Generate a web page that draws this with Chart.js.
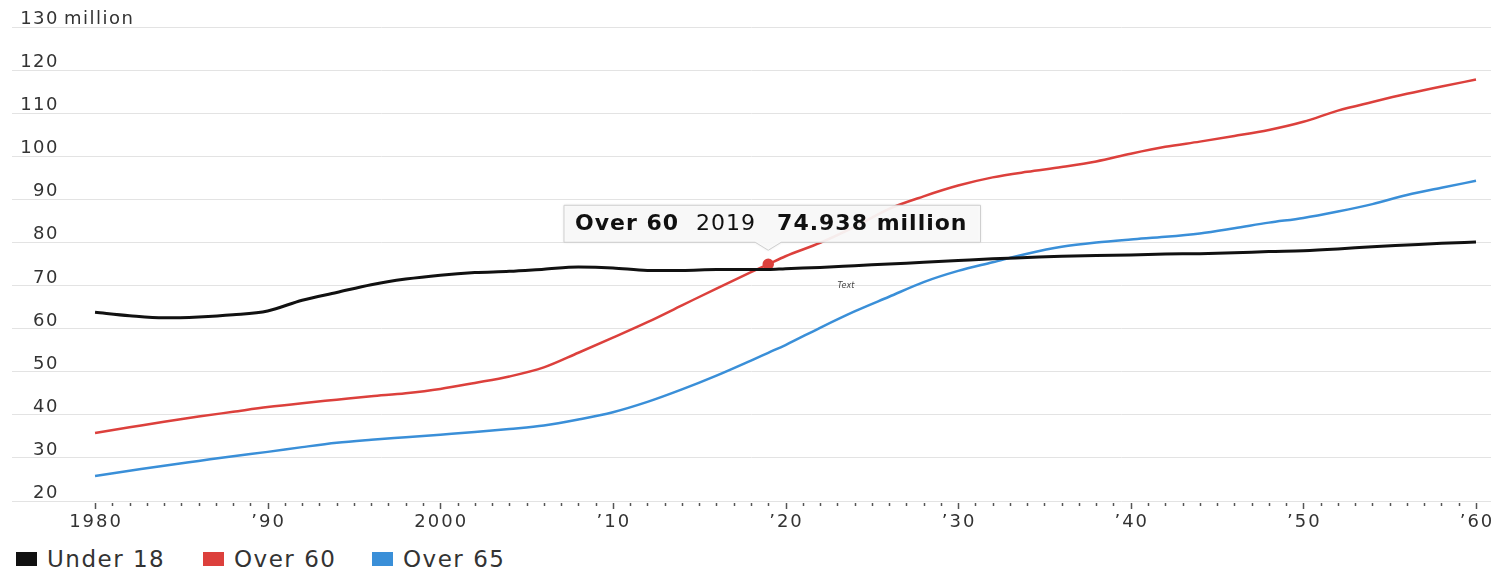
<!DOCTYPE html>
<html>
<head>
<meta charset="utf-8">
<title>US population by age group</title>
<script src="https://cdn.jsdelivr.net/npm/chart.js@4.4.1/dist/chart.umd.min.js"></script>
<style>
  html, body { margin: 0; padding: 0; background: #fff; }
  #wrap { position: relative; width: 1491px; height: 571px; overflow: hidden; }
  #chartBox { position: absolute; left: 0; top: 0; width: 1491px; height: 540px; }
  #legend { position: absolute; left: 0; top: 545px; width: 1491px; height: 28px;
            font-family: "DejaVu Sans", sans-serif; font-size: 23px; color: #333; letter-spacing: 1.5px; }
  .item { position: absolute; top: 0; height: 28px; line-height: 28px; display: flex; align-items: center; }
  .swatch { width: 21px; height: 14px; margin-right: 10px; }
</style>
</head>
<body>
<div id="wrap">
  <div id="chartBox"><canvas id="chart"></canvas></div>
  <div id="legend"></div>
</div>
<script>
// years sampled along each curve (2019 added for the highlighted point)
const years = [1980, 1982, 1984, 1986, 1988, 1990, 1992, 1994, 1996, 1998,
               2000, 2002, 2004, 2006, 2008, 2010, 2012, 2014, 2016, 2018,
               2019, 2020,
               2022, 2024, 2026, 2028, 2030, 2032, 2034, 2036, 2038, 2040,
               2042, 2044, 2046, 2048, 2050, 2052, 2054, 2056, 2058, 2060];

// population, millions
const under18 = [63.8, 63.0, 62.5, 62.7, 63.2, 64.1, 66.6, 68.4, 70.2, 71.5,
                 72.4, 73.0, 73.3, 73.8, 74.3, 74.1, 73.5, 73.5, 73.7, 73.7,
                 73.7, 73.9,
                 74.2, 74.6, 75.0, 75.4, 75.8, 76.2, 76.5, 76.8, 77.0, 77.1,
                 77.3, 77.4, 77.6, 77.9, 78.1, 78.5, 79.0, 79.4, 79.8, 80.1];
const over60 = [35.8, 37.1, 38.4, 39.6, 40.7, 41.8, 42.7, 43.5, 44.3, 45.0,
                46.0, 47.4, 48.9, 51.0, 54.4, 57.9, 61.5, 65.4, 69.3, 73.1,
                74.938, 76.8,
                79.9, 83.6, 87.8, 90.7, 93.2, 95.1, 96.4, 97.5, 98.8, 100.6,
                102.2, 103.4, 104.7, 106.1, 108.0, 110.6, 112.6, 114.5, 116.2, 117.8];
const over65 = [25.8, 27.0, 28.2, 29.3, 30.4, 31.4, 32.5, 33.5, 34.2, 34.8,
                35.4, 36.0, 36.7, 37.5, 38.9, 40.6, 43.0, 45.9, 49.1, 52.6,
                54.4, 56.2,
                60.2, 64.0, 67.4, 70.8, 73.4, 75.4, 77.4, 79.0, 80.0, 80.7,
                81.3, 82.1, 83.3, 84.6, 85.7, 87.2, 88.9, 91.0, 92.7, 94.3];

const seriesNames = ['Under 18', 'Over 60', 'Over 65'];
const seriesColors = ['#111111', '#dc403c', '#3a8fd8'];
const seriesValues = [under18, over60, over65];

const decadeTicks = [1980, 1990, 2000, 2010, 2020, 2030, 2040, 2050, 2060];
const tickLabels = ['1980', '\u201990', '2000', '\u201910', '\u201920', '\u201930', '\u201940', '\u201950', '\u201960'];

const calloutSeries = 'Over 60';
const calloutYear = 2019;
const noteLabel = { text: 'Text', year: 2023.5, value: 70 };

const FONT = '"DejaVu Sans", sans-serif';
const TEXT = '#333333';

// build legend row
const legend = document.getElementById('legend');
const legendLeft = [16, 203, 372];
seriesNames.forEach((name, i) => {
  const item = document.createElement('div');
  item.className = 'item';
  item.style.left = legendLeft[i] + 'px';
  item.innerHTML = '<span class="swatch" style="background:' + seriesColors[i] + '"></span><span>' + name + '</span>';
  legend.appendChild(item);
});

// axis labels: y labels sit above their gridline ("million" only on the top one),
// x labels centred under the decade ticks
const axisLabelPlugin = {
  id: 'axisLabels',
  afterDraw(chart) {
    const { ctx, scales: { x, y } } = chart;
    ctx.save();
    ctx.font = '18px ' + FONT;
    ctx.fillStyle = TEXT;
    ctx.letterSpacing = '1.5px';
    ctx.textBaseline = 'alphabetic';
    y.ticks.forEach(t => {
      const py = y.getPixelForValue(t.value);
      ctx.textAlign = 'right';
      ctx.fillText(String(t.value), 59, py - 3);
      if (t.value === y.max) {
        ctx.textAlign = 'left';
        ctx.fillText('million', 64, py - 3);
      }
    });
    const base = y.getPixelForValue(y.min);
    ctx.textAlign = 'center';
    ctx.textBaseline = 'middle';
    ctx.letterSpacing = '2px';
    decadeTicks.forEach((v, i) => {
      ctx.fillText(tickLabels[i], x.getPixelForValue(v) + 1, base + 21);
    });
    ctx.restore();
  }
};

// yearly tick marks under the axis, longer at each decade
const yearTickPlugin = {
  id: 'yearTicks',
  afterDraw(chart) {
    const { ctx, scales: { x, y } } = chart;
    const base = y.getPixelForValue(y.min);
    ctx.save();
    ctx.strokeStyle = '#555';
    ctx.lineWidth = 1.5;
    for (let yr = decadeTicks[0]; yr <= decadeTicks[decadeTicks.length - 1]; yr++) {
      const px = Math.round(x.getPixelForValue(yr)) + 0.5;
      ctx.beginPath();
      ctx.moveTo(px, base + 2);
      ctx.lineTo(px, base + (yr % 10 === 0 ? 8 : 5));
      ctx.stroke();
    }
    ctx.restore();
  }
};

// callout box over the highlighted point
const calloutPlugin = {
  id: 'callout',
  afterDatasetsDraw(chart) {
    const { ctx, scales: { x, y } } = chart;
    const ds = seriesNames.indexOf(calloutSeries);
    const idx = years.indexOf(calloutYear);
    const pt = chart.getDatasetMeta(ds).data[idx];
    const value = chart.data.datasets[ds].data[idx].y;

    const parts = [
      { text: calloutSeries, font: 'bold 22px ' + FONT },
      { text: String(calloutYear), font: '22px ' + FONT },
      { text: value + ' million', font: 'bold 22px ' + FONT }
    ];
    const gaps = [17, 21];
    const padL = 11, padR = 13;
    ctx.save();
    ctx.letterSpacing = '1px';
    parts.forEach(p => { ctx.font = p.font; p.w = ctx.measureText(p.text).width; });
    const boxW = padL + padR + parts.reduce((s, p) => s + p.w, 0) + gaps[0] + gaps[1];
    const boxH = 37;
    const bottom = pt.y - 22;
    const top = bottom - boxH;
    const left = pt.x + 4 - boxW / 2;
    const tipY = pt.y - 14;

    ctx.beginPath();
    ctx.moveTo(left, top);
    ctx.lineTo(left + boxW, top);
    ctx.lineTo(left + boxW, bottom);
    ctx.lineTo(pt.x + 13, bottom);
    ctx.lineTo(pt.x, tipY);
    ctx.lineTo(pt.x - 13, bottom);
    ctx.lineTo(left, bottom);
    ctx.closePath();
    ctx.fillStyle = 'rgba(250,250,250,0.93)';
    ctx.shadowColor = 'rgba(0,0,0,0.12)';
    ctx.shadowBlur = 3;
    ctx.fill();
    ctx.shadowBlur = 0;
    ctx.strokeStyle = '#cfcfcf';
    ctx.lineWidth = 1;
    ctx.stroke();

    ctx.fillStyle = '#111';
    ctx.textBaseline = 'middle';
    ctx.textAlign = 'left';
    let tx = left + padL;
    parts.forEach((p, i) => {
      ctx.font = p.font;
      ctx.fillText(p.text, tx, top + boxH / 2 + 1);
      tx += p.w + (gaps[i] || 0);
    });

    // small note label
    ctx.letterSpacing = '0px';
    ctx.font = 'italic 8px ' + FONT;
    ctx.fillStyle = '#444';
    ctx.textAlign = 'center';
    ctx.fillText(noteLabel.text, x.getPixelForValue(noteLabel.year), y.getPixelForValue(noteLabel.value));
    ctx.restore();
  }
};

const ctx = document.getElementById('chart').getContext('2d');
new Chart(ctx, {
  type: 'line',
  data: {
    datasets: seriesNames.map((name, i) => ({
      label: name,
      data: years.map((yr, j) => ({ x: yr, y: seriesValues[i][j] })),
      borderColor: seriesColors[i],
      backgroundColor: seriesColors[i],
      borderWidth: i === 0 ? 3 : 2.5,
      cubicInterpolationMode: 'monotone',
      pointRadius: c => (name === calloutSeries && years[c.dataIndex] === calloutYear) ? 4.5 : 0,
      pointHoverRadius: 0,
      fill: false
    }))
  },
  options: {
    responsive: true,
    maintainAspectRatio: false,
    animation: false,
    layout: { padding: { left: 12, right: 0, top: 27, bottom: 31 } },
    plugins: { legend: { display: false }, tooltip: { enabled: false } },
    events: [],
    scales: {
      x: {
        type: 'linear',
        min: 1975.19,
        max: 2060.87,
        afterBuildTicks: scale => { scale.ticks = decadeTicks.map(v => ({ value: v })); },
        grid: { display: false },
        border: { display: false },
        ticks: { display: false }
      },
      y: {
        min: 20,
        max: 130,
        ticks: { stepSize: 10, display: false },
        grid: { color: '#e3e3e3', lineWidth: 1, drawTicks: false },
        border: { display: false }
      }
    }
  },
  plugins: [axisLabelPlugin, yearTickPlugin, calloutPlugin]
});
</script>
</body>
</html>
